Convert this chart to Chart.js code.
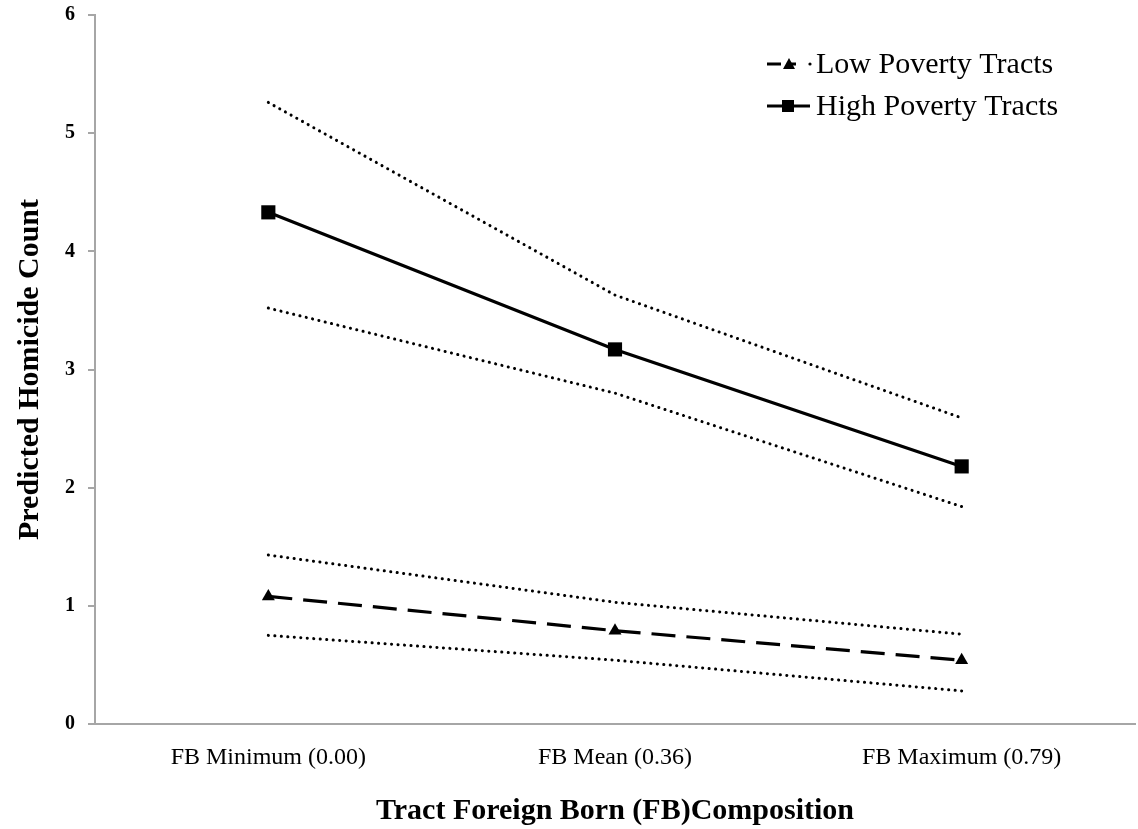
<!DOCTYPE html>
<html>
<head>
<meta charset="utf-8">
<script src="https://cdn.jsdelivr.net/npm/chart.js@4.4.1/dist/chart.umd.min.js"></script>
<style>
  html, body { margin: 0; padding: 0; background: #fff; }
  #wrap { width: 1138px; height: 829px; position: relative; }
</style>
</head>
<body>
<div id="wrap"><canvas id="chart"></canvas></div>
<script>
// Predicted homicide counts by tract foreign-born composition
const categories = ['FB Minimum (0.00)', 'FB Mean (0.36)', 'FB Maximum (0.79)'];

const highPoverty = [4.33, 3.17, 2.18];
const highUpper   = [5.26, 3.63, 2.59];
const highLower   = [3.52, 2.80, 1.84];

const lowPoverty  = [1.08, 0.79, 0.54];
const lowUpper    = [1.43, 1.03, 0.76];
const lowLower    = [0.75, 0.54, 0.28];

const yTicks = [0, 1, 2, 3, 4, 5, 6];

const seriesNames = ['Low Poverty Tracts', 'High Poverty Tracts'];

const SERIF = '"Liberation Serif", "Times New Roman", serif';

function ciLine(data) {
  return {
    data: data,
    borderColor: '#000',
    borderWidth: 3,
    borderDash: [0.1, 6.4],
    borderCapStyle: 'round',
    pointRadius: 0,
    fill: false,
    tension: 0
  };
}

// Legend in the upper-right corner, drawn from the dataset styles
const cornerLegend = {
  id: 'cornerLegend',
  afterDraw(chart) {
    const ctx = chart.ctx;
    const x0 = 767, x1 = 810;
    const rows = [
      { y: 64, label: seriesNames[0], dash: [14, 6], marker: 'triangle', dot: true },
      { y: 106, label: seriesNames[1], dash: [], marker: 'rect', dot: false }
    ];
    ctx.save();
    rows.forEach(r => {
      ctx.strokeStyle = '#000';
      ctx.fillStyle = '#000';
      ctx.lineWidth = 3;
      ctx.setLineDash(r.dash);
      ctx.beginPath();
      ctx.moveTo(x0, r.y);
      ctx.lineTo(r.dot ? 796 : x1, r.y);
      ctx.stroke();
      ctx.setLineDash([]);
      const mx = r.dot ? 789 : 788;
      if (r.marker === 'triangle') {
        ctx.beginPath();
        ctx.moveTo(mx, r.y - 6);
        ctx.lineTo(mx + 6, r.y + 5);
        ctx.lineTo(mx - 6, r.y + 5);
        ctx.closePath();
        ctx.fill();
      } else {
        ctx.fillRect(mx - 6, r.y - 6, 12, 12);
      }
      if (r.dot) {
        ctx.beginPath();
        ctx.arc(810, r.y, 1.6, 0, Math.PI * 2);
        ctx.fill();
      }
      ctx.font = '30px ' + SERIF;
      ctx.textBaseline = 'middle';
      ctx.textAlign = 'left';
      ctx.fillText(r.label, 816, r.y + 1);
    });
    ctx.restore();
  }
};

new Chart(document.getElementById('chart'), {
  type: 'line',
  data: {
    labels: categories,
    datasets: [
      ciLine(highUpper),
      ciLine(highLower),
      ciLine(lowUpper),
      ciLine(lowLower),
      {
        label: seriesNames[1],
        data: highPoverty,
        borderColor: '#000',
        backgroundColor: '#000',
        borderWidth: 3.2,
        pointStyle: 'rect',
        pointRadius: 10,
        pointBorderWidth: 0,
        tension: 0,
        fill: false
      },
      {
        label: seriesNames[0],
        data: lowPoverty,
        borderColor: '#000',
        backgroundColor: '#000',
        borderWidth: 3.2,
        borderDash: [24, 11],
        pointStyle: 'triangle',
        pointRadius: 7.5,
        pointBorderWidth: 0,
        tension: 0,
        fill: false
      }
    ]
  },
  options: {
    responsive: true,
    maintainAspectRatio: false,
    animation: false,
    layout: { autoPadding: false, padding: { top: 15, right: 3, left: 0, bottom: 0 } },
    plugins: {
      legend: { display: false },
      tooltip: { enabled: false }
    },
    scales: {
      x: {
        type: 'category',
        offset: true,
        grid: { display: true, drawOnChartArea: false, drawTicks: false },
        border: { display: true, color: '#a6a6a6', width: 2 },
        ticks: {
          color: '#000',
          padding: 19,
          font: { family: SERIF, size: 24 }
        },
        title: {
          display: true,
          text: 'Tract Foreign Born (FB)Composition',
          color: '#000',
          font: { family: SERIF, size: 30, weight: 'bold' },
          padding: { top: 5, bottom: 0 }
        },
        afterFit(scale) {
          scale.height = 105;
          scale.paddingLeft = 0;
          scale.paddingRight = 0;
        }
      },
      y: {
        type: 'linear',
        min: 0,
        max: 6,
        afterBuildTicks(scale) { scale.ticks = yTicks.map(v => ({ value: v })); },
        grid: { display: true, drawOnChartArea: false, drawTicks: true, tickLength: 7, color: '#a6a6a6', lineWidth: 2 },
        border: { display: true, color: '#a6a6a6', width: 2 },
        ticks: {
          color: '#000',
          padding: 13,
          font: { family: SERIF, size: 20, weight: 'bold' }
        },
        title: {
          display: true,
          text: 'Predicted Homicide Count',
          color: '#000',
          font: { family: SERIF, size: 30, weight: 'bold' },
          padding: { top: 12, bottom: 0 }
        },
        afterFit(scale) {
          scale.width = 95;
          scale.paddingTop = 0;
          scale.paddingBottom = 0;
        }
      }
    }
  },
  plugins: [cornerLegend]
});
</script>
</body>
</html>
